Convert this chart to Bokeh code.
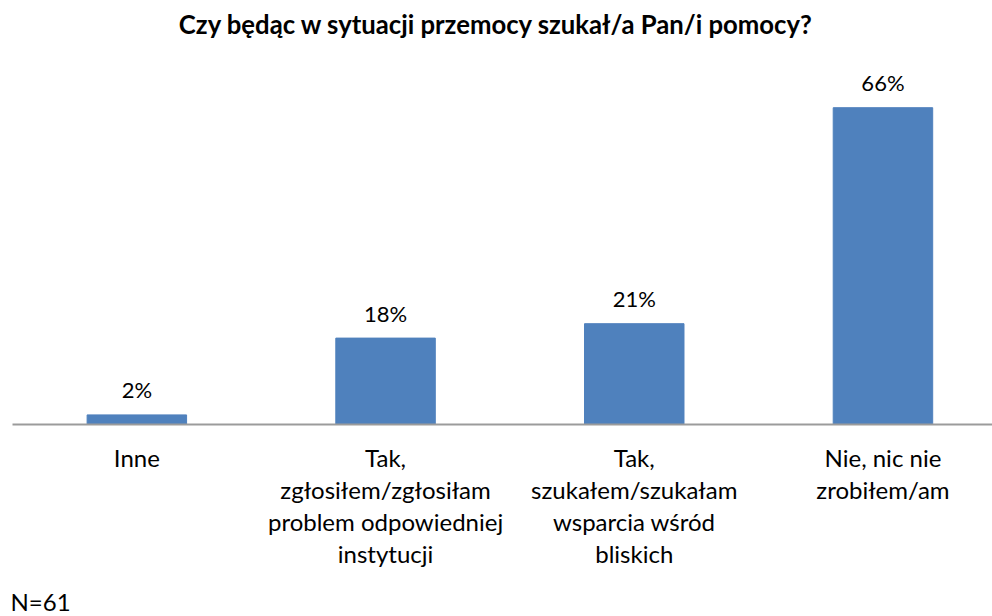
from bokeh.plotting import figure
from bokeh.models import Range1d
from bokeh.embed import file_html
from bokeh.resources import INLINE
from bokeh.core.properties import value

title_text = "Czy będąc w sytuacji przemocy szukał/a Pan/i pomocy?"
categories = [
    "Inne",
    "Tak,\nzgłosiłem/zgłosiłam\nproblem odpowiedniej\ninstytucji",
    "Tak,\nszukałem/szukałam\nwsparcia wśród\nbliskich",
    "Nie, nic nie\nzrobiłem/am",
]
values = [2, 18, 21, 66]
value_labels = [f"{v}%" for v in values]
note = "N=61"

positions = list(range(len(categories)))
baseline = [0] * len(categories)

FONT = "Lato"
BAR_COLOR = "#4F81BD"

W, H = 992, 616
px_per_cat = 248.7
axis_left_px = 12       # where the category axis starts
axis_y_px = 424         # baseline position from top
px_per_pct = 4.8

x_start = -0.5 - axis_left_px / px_per_cat
x_end = x_start + W / px_per_cat
y_end = axis_y_px / px_per_pct
y_start = -(H - axis_y_px) / px_per_pct

p = figure(
    width=W, height=H, output_backend="svg", toolbar_location=None,
    x_range=Range1d(x_start, x_end), y_range=Range1d(y_start, y_end),
    x_axis_location=None, y_axis_location=None,
    min_border=0,
)
p.outline_line_color = None
p.grid.visible = False
p.background_fill_color = "white"
p.border_fill_color = "white"

# bars
p.vbar(x=positions, top=values, width=0.4, fill_color=BAR_COLOR, line_color=BAR_COLOR)

# category axis line
p.segment(x0=[-0.5], y0=[0], x1=[x_end], y1=[0], line_color="#9B9B9B", line_width=2)

# value labels
p.text(x=positions, y=values, text=value_labels, text_align="center",
       text_baseline="alphabetic", y_offset=-25,
       text_font=value(FONT), text_font_size="22px", text_color="black")

# category labels
p.text(x=positions, y=baseline, text=categories, text_align="center",
       text_baseline="top", y_offset=18, text_line_height=1.11,
       text_font=value(FONT), text_font_size="24px", text_color="black")

# title
title_x = (W / 2 - axis_left_px) / px_per_cat - 0.5
p.text(x=[title_x], y=[y_end], text=[title_text], text_align="center",
       text_baseline="alphabetic", y_offset=23,
       text_font=value(FONT), text_font_style="bold", text_font_size="25.7px",
       text_color="black")

# sample size note
p.text(x=[-0.5], y=[0], text=[note], text_align="left", text_baseline="bottom",
       x_offset=-2, y_offset=191,
       text_font=value(FONT), text_font_size="24px", text_color="black")

open("out.html", "w").write(file_html(p, INLINE))
